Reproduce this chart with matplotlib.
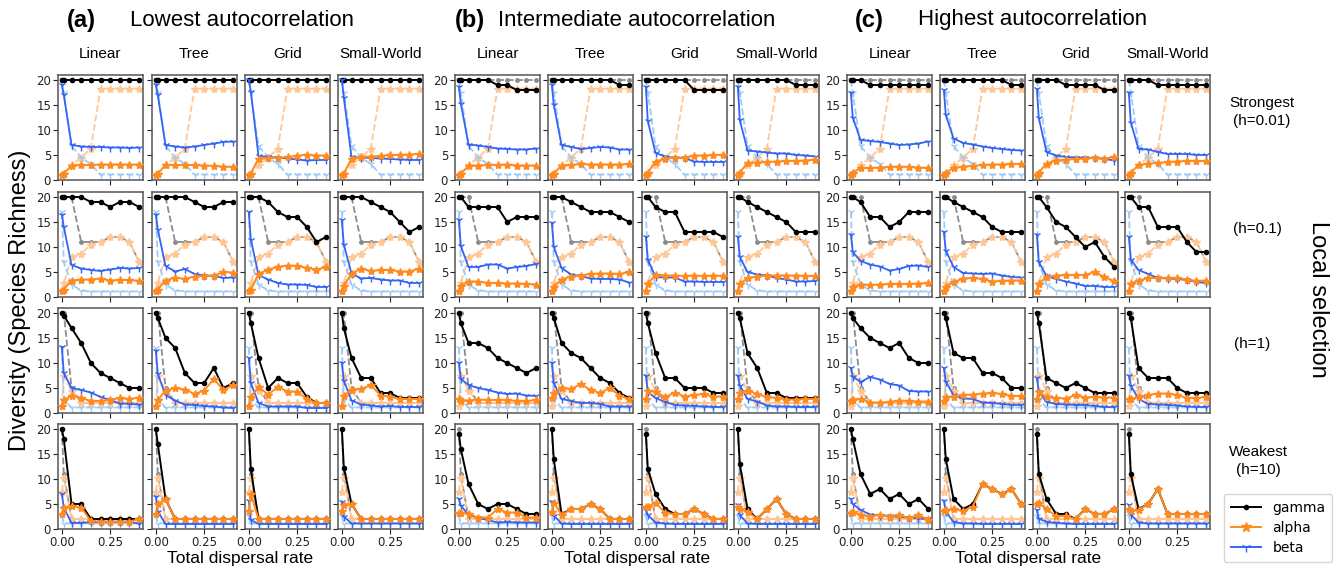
import matplotlib
matplotlib.use("Agg")
import matplotlib.pyplot as plt
from matplotlib.lines import Line2D

# ---------------- data ----------------
dispersal = [0, 0.01, 0.05, 0.10, 0.15, 0.20, 0.25, 0.30, 0.35, 0.40]
networks = ["Linear", "Tree", "Grid", "Small-World"]
group_titles = ["Lowest autocorrelation", "Intermediate autocorrelation", "Highest autocorrelation"]
group_letters = ["(a)", "(b)", "(c)"]
row_labels = ["Strongest\n(h=0.01)", "(h=0.1)", "(h=1)", "Weakest\n(h=10)"]

# baseline (faded, dashed) curves, one per selection row
base_gamma = [
    [20, 20, 20, 20, 20, 20, 20, 20, 20, 20],
    [20, 20, 20, 11, 11, 11, 12, 12, 11, 7],
    [20, 20, 5, 2, 2, 2, 2, 2, 2, 2],
    [20, 11, 2, 2, 2, 2, 2, 2, 2, 2],
]
base_alpha = [
    [1, 1.2, 3, 4.5, 6.3, 18.3, 18.3, 18.3, 18.3, 18.3],
    [1.2, 2.8, 8, 8.7, 10.5, 11, 12, 12, 11, 7],
    [1.5, 7.5, 4.5, 2, 2, 2, 2, 2, 2, 2],
    [7.5, 10.3, 2, 2, 2, 2, 2, 2, 2, 2],
]
base_beta = [
    [20, 17.5, 6.8, 4.5, 3.2, 1.1, 1.1, 1.1, 1.1, 1.1],
    [17, 7, 2.5, 1.3, 1.1, 1.1, 1.1, 1.1, 1.1, 1.1],
    [13, 2.7, 1.1, 1.1, 1.1, 1.1, 1.1, 1.1, 1.1, 1.1],
    [2.7, 1.1, 1.1, 1.1, 1.1, 1.1, 1.1, 1.1, 1.1, 1.1],
]

# group (a) lowest autocorrelation: [row][network]
gamma_a = [
    [[20]*10, [20]*10, [20]*10, [20]*10],
    [[20, 20, 20, 20, 19, 19, 18, 19, 19, 18],
     [20, 20, 20, 20, 20, 19, 18, 18, 19, 19],
     [20, 20, 20, 19, 17, 16, 16, 14, 11, 12],
     [20, 20, 20, 20, 19, 18, 17, 15, 13, 14]],
    [[20, 19.5, 17, 14, 10, 8, 7, 6, 5, 5],
     [20, 19, 15, 13, 8, 6, 6, 9, 5, 6],
     [20, 18, 11, 5, 7, 6, 6, 3.2, 2, 2],
     [20, 17, 11, 7, 7, 4, 4, 3, 3, 3]],
    [[20, 18, 5, 5, 2, 2, 2, 2, 2, 2],
     [20, 17, 6, 2, 2, 2, 2, 2, 2, 2],
     [20, 12, 2, 2, 2, 2, 2, 2, 2, 2],
     [20, 12.3, 5, 2, 2, 2, 2, 2, 2, 2]],
]
alpha_a = [
    [[1, 1.3, 2.9, 3.0, 3.0, 3.1, 3.1, 3.1, 3.1, 3.1],
     [1, 1.3, 3.0, 3.0, 3.0, 3.0, 2.9, 2.8, 2.7, 2.6],
     [1, 1.3, 4.3, 4.4, 4.4, 4.6, 4.8, 5.1, 4.9, 4.9],
     [1, 1.3, 4.3, 4.6, 4.7, 4.8, 5.0, 5.0, 5.1, 5.2]],
    [[1.2, 1.5, 3.3, 3.5, 3.5, 3.7, 3.3, 3.4, 3.4, 3.2],
     [1.2, 1.5, 3.3, 3.9, 3.6, 4.1, 4.2, 4.3, 5.0, 4.9],
     [1.2, 1.5, 4.6, 5.5, 6.0, 6.3, 6.2, 5.8, 5.5, 6.0],
     [1.2, 2.3, 4.7, 5.7, 5.2, 5.4, 5.4, 5.1, 5.1, 5.7]],
    [[1.5, 2.6, 3.5, 3.0, 2.4, 2.4, 2.6, 3.0, 2.8, 3.1],
     [1.5, 2.6, 4.5, 5.0, 4.7, 3.8, 4.5, 6.8, 4.6, 5.6],
     [1.5, 3.3, 5.2, 3.7, 5.2, 4.3, 4.3, 2.8, 2.0, 2.0],
     [1.5, 3.5, 4.7, 4.8, 5.6, 3.5, 3.3, 2.8, 2.8, 2.8]],
    [[3, 4.3, 4.6, 4.3, 1.6, 1.5, 1.5, 1.5, 1.5, 2],
     [3, 5, 6, 2, 2, 2, 2, 2, 2, 2],
     [3.7, 7, 2, 2, 2, 2, 2, 2, 2, 2],
     [3.7, 4.9, 5, 2, 2, 2, 2, 2, 2, 2]],
]
beta_a = [
    [[19, 17, 7, 6.7, 6.6, 6.6, 6.5, 6.5, 6.4, 6.5],
     [19, 17, 7, 6.7, 6.5, 6.7, 7.0, 7.3, 7.6, 7.7],
     [20, 17.7, 4.8, 4.6, 4.5, 4.3, 4.1, 3.9, 4.0, 4.0],
     [20, 16.5, 4.6, 4.5, 4.4, 4.3, 4.2, 4.1, 4.0, 4.0]],
    [[16.5, 14, 6.4, 5.7, 5.4, 5.2, 5.5, 5.8, 5.7, 5.8],
     [16.5, 13.5, 6.2, 5.1, 5.6, 4.6, 4.3, 4.2, 3.8, 3.9],
     [17, 11.5, 4.4, 3.5, 2.8, 2.5, 2.5, 2.4, 2.0, 2.0],
     [15.4, 10.5, 4.7, 3.7, 3.8, 3.5, 3.3, 3.3, 2.8, 2.8]],
    [[13.2, 8, 5, 4.6, 4.1, 3.2, 2.6, 1.9, 1.8, 1.7],
     [12.5, 7.8, 3.6, 2.5, 1.7, 1.6, 1.4, 1.3, 1.1, 1.0],
     [11, 6, 2, 1.3, 1.3, 1.3, 1.3, 1.0, 1.0, 1.0],
     [10, 6.5, 2.5, 1.7, 1.5, 1.3, 1.4, 1.2, 1.2, 1.2]],
    [[7, 4.3, 1.2, 1.2, 1.4, 1.4, 1.4, 1.4, 1.4, 1.1],
     [6.5, 3.5, 1, 1, 1, 1, 1, 1, 1, 1],
     [5.6, 1.8, 1, 1, 1, 1, 1, 1, 1, 1],
     [5.5, 2.5, 1.1, 1.1, 1.1, 1.1, 1.1, 1.1, 1.1, 1.1]],
]

# group (b) intermediate autocorrelation
gamma_b = [
    [[20, 20, 20, 20, 20, 19, 19, 18, 18, 18],
     [20, 20, 20, 20, 20, 20, 20, 20, 19, 19],
     [20, 20, 20, 20, 20, 20, 18, 18, 18, 18],
     [20, 20, 20, 20, 20, 20, 20, 19, 19, 19]],
    [[20, 20, 18, 18, 18, 18, 15, 16, 16, 16],
     [20, 20, 20, 19, 18, 17, 17, 17, 16, 15],
     [20, 20, 18, 17, 17, 13, 13, 13, 13, 12],
     [20, 20, 19, 18, 17, 16, 15, 13, 13, 13]],
    [[20, 18, 14, 14, 13, 11, 10, 9, 8, 9],
     [20, 19, 14, 12, 11, 9, 7, 6, 4, 3],
     [20, 18, 12, 7, 7, 5, 5, 5, 4, 4],
     [20, 19, 12, 9, 4, 4, 3, 3, 3, 3]],
    [[19, 16, 9, 5, 4, 5, 5, 4, 3, 3],
     [20, 14, 3, 4, 4, 5, 4, 2, 2, 2],
     [19, 12, 7, 4, 3, 3, 4, 3, 2, 2],
     [20, 13, 4, 2, 4, 6, 3, 2, 2, 2]],
]
alpha_b = [
    [[1, 1.3, 2.8, 2.9, 3.0, 3.0, 3.1, 2.9, 2.9, 2.9],
     [1, 1.3, 2.9, 3.0, 3.2, 3.1, 3.1, 3.1, 3.1, 3.2],
     [1, 1.5, 3.7, 4.3, 4.5, 4.5, 4.9, 4.9, 5.0, 5.0],
     [1, 1.5, 3.4, 3.5, 3.6, 3.7, 3.8, 3.8, 3.9, 4.1]],
    [[1.2, 2.2, 3.1, 3.1, 2.8, 2.8, 2.7, 2.7, 2.6, 2.5],
     [1.2, 2.0, 3.5, 4.1, 4.3, 4.6, 4.7, 4.7, 4.6, 5.0],
     [1.2, 2.6, 4.5, 4.3, 4.3, 4.2, 4.3, 4.2, 4.3, 4.2],
     [1.2, 2.6, 3.8, 4.1, 4.3, 4.3, 4.3, 4.3, 4.2, 4.2]],
    [[2.8, 2.5, 2.5, 2.7, 2.6, 2.6, 2.6, 2.4, 2.4, 2.6],
     [3, 4, 5, 4.8, 5.8, 4.6, 4, 5, 3.5, 2.8],
     [2.8, 4.5, 4.2, 3.2, 4.1, 3.3, 3.6, 3.8, 3.3, 3.3],
     [2.8, 4, 4.5, 3.8, 3.2, 3.0, 2.7, 2.7, 2.8, 2.8]],
    [[3.3, 3.3, 3.0, 2.3, 2.3, 4, 3.3, 3.3, 2.3, 2.3],
     [3.5, 5.3, 2.8, 4, 4, 5, 4, 2, 2, 2],
     [4.5, 4.5, 5.3, 3.2, 3, 3, 4, 3, 2, 2],
     [4.5, 4, 3.5, 2, 4, 6, 3, 2, 2, 2]],
]
beta_b = [
    [[18.7, 15.3, 7.1, 6.9, 6.6, 6.3, 6.2, 6.1, 6.1, 6.3],
     [19, 15, 7, 6.6, 6.2, 6.4, 6.6, 6.5, 6.1, 6.1],
     [18.6, 11.8, 5.4, 4.7, 4.4, 4.4, 3.7, 3.6, 3.6, 3.6],
     [18.7, 12, 5.9, 5.7, 5.5, 5.3, 5.3, 5.0, 4.9, 4.7]],
    [[15.5, 10.2, 6, 6, 6.5, 6.5, 5.7, 6, 6.2, 6.6],
     [14.8, 10, 5.8, 4.5, 4.2, 3.7, 3.6, 3.6, 3.5, 2.9],
     [12, 7.5, 4, 3.9, 3.9, 3.1, 3.1, 3.0, 3.0, 3.0],
     [12, 8, 5, 4.5, 4.3, 3.8, 3.5, 3.1, 3.1, 3.2]],
    [[10, 6.8, 5.6, 5, 4.6, 4.1, 3.8, 3.9, 3.5, 3.4],
     [10, 6, 2.8, 2.4, 2, 2, 1.8, 1.3, 1.3, 1.3],
     [7.5, 4.2, 3, 2.2, 1.6, 1.5, 1.4, 1.3, 1.2, 1.2],
     [7.5, 5.5, 2.8, 2.3, 1.5, 1.3, 1.3, 1.2, 1.2, 1.2]],
    [[6, 4.7, 2.8, 2.2, 1.8, 1.3, 1.4, 1.3, 1.3, 1.3],
     [5.5, 2.7, 1.1, 1, 1, 1, 1, 1, 1, 1],
     [3.8, 2.8, 1.3, 1.1, 1, 1, 1, 1, 1, 1],
     [4.8, 2.8, 1.1, 1, 1, 1, 1, 1, 1, 1]],
]

# group (c) highest autocorrelation
gamma_c = [
    [[20, 20, 20, 19, 19, 19, 19, 19, 19, 19],
     [20, 20, 20, 20, 20, 20, 20, 20, 19, 19],
     [20, 20, 20, 20, 19, 19, 19, 19, 18, 18],
     [20, 20, 20, 20, 19, 19, 19, 19, 19, 19]],
    [[20, 20, 19, 16, 16, 14, 15, 17, 17, 17],
     [20, 20, 19, 18, 17, 16, 14, 13, 13, 13],
     [20, 20, 18, 15, 14, 12, 10, 11, 8, 6],
     [20, 20, 18, 18, 14, 14, 14, 11, 9, 9]],
    [[20, 19, 17, 15, 14, 13, 14, 11, 10, 10],
     [20, 19, 12, 11, 11, 8, 8, 7, 5, 5],
     [20, 18, 7, 6, 5, 6, 5, 4, 4, 4],
     [20, 19, 9, 7, 7, 7, 5, 4, 4, 4]],
    [[20, 18, 11, 7, 8, 6, 7, 5, 6, 4],
     [20, 14, 6, 4, 5, 9, 8, 7, 8, 5],
     [19, 11, 6, 3, 3, 2, 4, 3, 3, 4],
     [19, 11, 4, 5, 8, 3, 3, 3, 3, 3]],
]
alpha_c = [
    [[1, 1.5, 2.4, 2.4, 2.5, 2.6, 2.7, 2.6, 2.5, 2.4],
     [1, 1.5, 2.4, 2.7, 2.8, 3.0, 3.1, 3.1, 3.2, 3.2],
     [1, 1.5, 3.3, 3.9, 4.1, 4.2, 4.3, 4.4, 4.3, 4.6],
     [1, 1.5, 3.0, 3.3, 3.4, 3.6, 3.7, 3.8, 3.8, 3.8]],
    [[1.2, 2.0, 2.5, 2.4, 2.5, 2.6, 2.6, 2.6, 2.7, 2.8],
     [1.2, 2.0, 3.0, 3.7, 3.8, 3.6, 3.1, 3.2, 3.3, 3.3],
     [1.2, 2.7, 4.0, 4.3, 4.4, 4.4, 4.4, 5.0, 4.0, 3.2],
     [1.2, 2.7, 3.3, 3.8, 3.8, 3.8, 3.8, 3.5, 3.2, 3.3]],
    [[2.5, 2.7, 2.8, 2.1, 2.1, 2.2, 2.5, 2.4, 2.3, 2.3],
     [2.5, 3.2, 3.3, 3.6, 3.7, 3.9, 4.0, 3.8, 3.4, 3.4],
     [2.8, 4.3, 3.2, 3.0, 2.9, 3.6, 3.1, 3.2, 3.1, 3.1],
     [2.8, 2.8, 3.2, 3.6, 3.9, 3.9, 3.6, 3.0, 3.0, 3.2]],
    [[3.2, 3.5, 2.8, 2.5, 2.9, 2.5, 2.8, 2.2, 2.8, 1.9],
     [3.6, 3.8, 4.0, 3.6, 4.5, 9, 8, 7, 8, 5],
     [5, 5.2, 4, 2.6, 2.6, 2, 4, 3, 3, 4],
     [4, 3.7, 3.8, 5, 8, 3, 3, 3, 3, 3]],
]
beta_c = [
    [[17.5, 12.5, 8, 7.8, 7.6, 7.3, 7.0, 7.1, 7.3, 7.7],
     [18, 13, 8.3, 7.4, 7.1, 6.7, 6.4, 6.2, 6.0, 5.9],
     [18.2, 12.4, 5.6, 4.9, 4.6, 4.5, 4.5, 4.4, 4.2, 3.9],
     [17.5, 11.5, 6.2, 6.1, 5.6, 5.2, 5.2, 5.2, 5.0, 5.0]],
    [[12.5, 9, 7.2, 6.5, 6.1, 5.3, 5.6, 6.2, 6.3, 6.0],
     [13, 9.3, 6, 4.8, 4.7, 4.6, 4.7, 4.3, 4.0, 3.9],
     [12.5, 7, 4.2, 3.6, 3.1, 2.7, 2.2, 2.2, 2.0, 2.0],
     [12, 7.5, 5.4, 4.6, 3.8, 3.7, 3.6, 3.4, 3.0, 2.8]],
    [[9, 7.3, 6.2, 7.2, 6.7, 5.8, 5.5, 4.4, 4.3, 4.3],
     [9, 6.3, 3.6, 2.9, 2.8, 2.1, 2.0, 1.8, 1.6, 1.6],
     [7, 4.3, 2.2, 1.8, 1.7, 1.6, 1.6, 1.4, 1.2, 1.2],
     [7.5, 5.5, 2.8, 1.8, 1.7, 1.6, 1.5, 1.3, 1.2, 1.2]],
    [[6, 5, 3.8, 2.9, 2.7, 2.6, 2.4, 2.3, 2.1, 2.0],
     [5.7, 3.5, 1.4, 1.1, 1.1, 1, 1, 1, 1, 1],
     [3.8, 2.1, 1.4, 1.2, 1.1, 1, 1, 1, 1, 1],
     [4.8, 2.9, 1.3, 1.1, 1.1, 1.1, 1.1, 1.1, 1.1, 1.1]],
]

gammas = [gamma_a, gamma_b, gamma_c]
alphas = [alpha_a, alpha_b, alpha_c]
betas = [beta_a, beta_b, beta_c]

# ---------------- style ----------------
C_GAMMA = "black"
C_ALPHA = "#ff8a1f"
C_BETA = "#3464f5"
C_GAMMA_L = "#8c8c8c"
C_ALPHA_L = "#ffc795"
C_BETA_L = "#9fcbf6"
SANS = ["Liberation Sans", "DejaVu Sans"]

W, H = 1343, 571
fig = plt.figure(figsize=(W / 100, H / 100), dpi=100)

group_lefts = [[58, 152, 245, 338], [455, 548, 642, 734], [847, 940, 1033, 1125]]
row_tops = [75, 192, 308, 424]
pw, ph = 85, 105

def px_axes(left, top, w, h):
    return fig.add_axes([left / W, 1 - (top + h) / H, w / W, h / H])

for g in range(3):
    for r in range(4):
        for c in range(4):
            ax = px_axes(group_lefts[g][c], row_tops[r], pw, ph)
            # faded baseline curves
            ax.plot(dispersal, base_gamma[r], ls="--", color=C_GAMMA_L, marker=".", ms=5, lw=1.3, zorder=1)
            ax.plot(dispersal, base_alpha[r], ls="--", color=C_ALPHA_L, marker="*", ms=6, lw=1.3, zorder=1)
            ax.plot(dispersal, base_beta[r], ls="--", color=C_BETA_L, marker="1", ms=6, lw=1.3, zorder=1)
            # main curves
            ax.plot(dispersal, gammas[g][r][c], color=C_GAMMA, marker=".", ms=6, lw=1.4, zorder=2)
            ax.plot(dispersal, betas[g][r][c], color=C_BETA, marker="1", ms=6, lw=1.3, zorder=3)
            ax.plot(dispersal, alphas[g][r][c], color=C_ALPHA, marker="*", ms=6, lw=1.4, zorder=4)
            ax.set_xlim(-0.02, 0.42)
            ax.set_ylim(0, 21)
            ax.set_yticks([0, 5, 10, 15, 20])
            ax.set_xticks([0, 0.25])
            ax.tick_params(labelsize=8.5, length=3.5, width=0.8, colors="#222222", pad=1.5)
            for sp in ax.spines.values():
                sp.set_color("#555555")
                sp.set_linewidth(1.1)
            if c != 0:
                ax.set_yticklabels([])
            if r != 3:
                ax.set_xticklabels([])
            else:
                ax.set_xticklabels(["0.00", "0.25"])
            if r == 0:
                ax.set_title(networks[c], fontsize=11, family=SANS, pad=12)

# group headers and x labels
letter_x = [81, 470, 869]
title_left = [130, 498, 918]
for g in range(3):
    fig.text(letter_x[g] / W, 1 - 20 / H, group_letters[g], fontsize=17, fontweight="bold",
             family=SANS, ha="center", va="center")
    fig.text(title_left[g] / W, 1 - 20 / H, group_titles[g], fontsize=16,
             family=SANS, ha="left", va="center")
    cx = (group_lefts[g][0] + group_lefts[g][3] + pw) / 2
    fig.text(cx / W, 1 - 559 / H, "Total dispersal rate", fontsize=12.5, family=SANS,
             ha="center", va="center")

# row labels on the right
row_label_pos = [(1262, 112), (1257, 229), (1252, 344), (1258, 461)]
for lab, (x, y) in zip(row_labels, row_label_pos):
    fig.text(x / W, 1 - y / H, lab, fontsize=11, family=SANS, ha="center", va="center",
             linespacing=1.3)

fig.text(20 / W, 1 - 300 / H, "Diversity (Species Richness)", fontsize=17, family=SANS,
         rotation=90, ha="center", va="center")
fig.text(1318 / W, 1 - 299 / H, "Local selection", fontsize=17, family=SANS,
         rotation=270, ha="center", va="center")

handles = [
    Line2D([], [], color=C_GAMMA, marker=".", ms=6, lw=1.4),
    Line2D([], [], color=C_ALPHA, marker="*", ms=7, lw=1.4),
    Line2D([], [], color=C_BETA, marker="1", ms=7, lw=1.4),
]
fig.legend(handles, ["gamma", "alpha", "beta"], loc="center",
           bbox_to_anchor=(1278 / W, 1 - 528 / H), fontsize=10, frameon=True,
           handlelength=2.2, borderpad=0.5, labelspacing=0.45)

fig.savefig("out.png", dpi=100)
